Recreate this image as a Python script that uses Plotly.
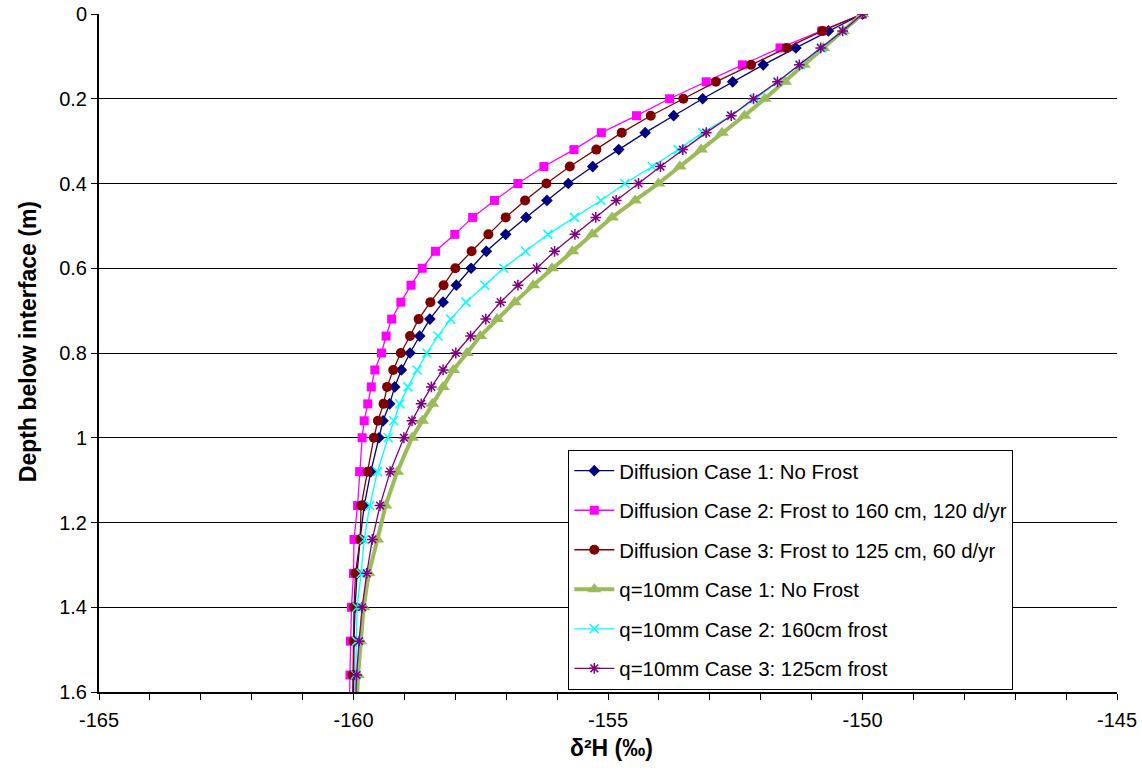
import plotly.graph_objects as go

# Depth below the interface (m)
depth = [0.00, 0.04, 0.08, 0.12, 0.16, 0.20, 0.24, 0.28, 0.32, 0.36, 0.40,
         0.44, 0.48, 0.52, 0.56, 0.60, 0.64, 0.68, 0.72, 0.76, 0.80, 0.84,
         0.88, 0.92, 0.96, 1.00, 1.08, 1.16, 1.24, 1.32, 1.40, 1.48, 1.56, 1.64]

# delta-2H profiles (permil)
diff_case1 = [-150.00, -150.67, -151.31, -151.95, -152.55, -153.14, -153.71, -154.27,
              -154.79, -155.30, -155.78, -156.20, -156.61, -157.01, -157.39, -157.69,
              -157.98, -158.24, -158.50, -158.70, -158.89, -159.06, -159.19, -159.29,
              -159.42, -159.50, -159.66, -159.79, -159.87, -159.93, -159.97, -159.99,
              -160.00, -160.00]
diff_case2 = [-150.00, -150.80, -151.62, -152.36, -153.07, -153.79, -154.44, -155.13,
              -155.67, -156.26, -156.77, -157.23, -157.66, -158.01, -158.39, -158.65,
              -158.87, -159.07, -159.25, -159.36, -159.45, -159.58, -159.65, -159.72,
              -159.79, -159.83, -159.88, -159.92, -159.99, -160.00, -160.04, -160.06,
              -160.07, -160.08]
diff_case3 = [-150.00, -150.79, -151.49, -152.19, -152.88, -153.52, -154.16, -154.73,
              -155.23, -155.75, -156.21, -156.63, -157.01, -157.35, -157.68, -158.00,
              -158.23, -158.49, -158.72, -158.89, -159.07, -159.22, -159.34, -159.41,
              -159.52, -159.60, -159.72, -159.85, -159.87, -159.96, -159.99, -160.00,
              -160.02, -160.02]
q10_case1 = [-150.00, -150.38, -150.77, -151.15, -151.52, -151.92, -152.32, -152.76,
             -153.17, -153.59, -154.01, -154.47, -154.92, -155.31, -155.70, -156.10,
             -156.47, -156.83, -157.18, -157.51, -157.77, -158.04, -158.24, -158.45,
             -158.65, -158.85, -159.14, -159.37, -159.53, -159.70, -159.80, -159.86,
             -159.91, -159.94]
q10_case2 = [-150.00, -150.38, -150.80, -151.22, -151.66, -152.10, -152.58, -153.14,
             -153.62, -154.13, -154.67, -155.14, -155.66, -156.18, -156.62, -157.05,
             -157.42, -157.79, -158.09, -158.34, -158.56, -158.75, -158.93, -159.09,
             -159.21, -159.32, -159.53, -159.68, -159.79, -159.85, -159.93, -159.94,
             -159.96, -159.97]
q10_case3 = [-150.00, -150.39, -150.82, -151.24, -151.67, -152.14, -152.58, -153.07,
             -153.53, -153.97, -154.40, -154.84, -155.24, -155.65, -156.05, -156.40,
             -156.77, -157.11, -157.40, -157.70, -157.99, -158.24, -158.47, -158.67,
             -158.85, -159.01, -159.28, -159.48, -159.63, -159.74, -159.83, -159.89,
             -159.94, -159.96]

x_ticks = [-165, -160, -155, -150, -145]
x_tick_text = ["-165", "-160", "-155", "-150", "-145"]
y_ticks = [0, 0.2, 0.4, 0.6, 0.8, 1.0, 1.2, 1.4, 1.6]
y_tick_text = ["0", "0.2", "0.4", "0.6", "0.8", "1", "1.2", "1.4", "1.6"]

x_title = "δ²H (‰)"
y_title = "Depth below interface (m)"

FONT = "Liberation Sans, Arial, sans-serif"

series = [
    ("Diffusion Case 1: No Frost", diff_case1, "#000080", "diamond", 9, 1.3),
    ("Diffusion Case 2: Frost to 160 cm, 120 d/yr", diff_case2, "#FF00FF", "square", 9, 1.3),
    ("Diffusion Case 3: Frost to 125 cm, 60 d/yr", diff_case3, "#800000", "circle", 10, 1.3),
    ("q=10mm Case 1: No Frost", q10_case1, "#9BBB59", "triangle-up", 12, 4),
    ("q=10mm Case 2: 160cm frost", q10_case2, "#00FFFF", "x-thin-open", 9, 1.3),
    ("q=10mm Case 3: 125cm frost", q10_case3, "#800080", "asterisk-open", 9, 1.3),
]

fig = go.Figure()
for i, (name, vals, color, symbol, msize, lw) in enumerate(series):
    fig.add_trace(go.Scatter(
        x=vals, y=depth, name=name, mode="lines+markers",
        legendgroup=f"g{i}",
        line=dict(color=color, width=lw),
        marker=dict(symbol=symbol, size=msize, color=color,
                    line=dict(color=color, width=1.5 if "open" in symbol else 0)),
        cliponaxis=True,
    ))

# Axis titles placed as annotations relative to the plot area
fig.add_annotation(text=f"<b>{y_title}</b>", textangle=-90,
                   xref="paper", yref="paper", x=0, y=0.516,
                   xanchor="center", yanchor="middle", xshift=-71,
                   showarrow=False, font=dict(family=FONT, size=23, color="black"))
fig.add_annotation(text=f"<b>{x_title}</b>",
                   xref="paper", yref="paper", x=0.503, y=0,
                   xanchor="center", yanchor="middle", yshift=-56,
                   showarrow=False, font=dict(family=FONT, size=23, color="black"))

fig.update_layout(
    width=1142, height=772,
    margin=dict(l=99, r=25, t=14, b=80),
    paper_bgcolor="white", plot_bgcolor="white",
    font=dict(family=FONT, size=20, color="black"),
    showlegend=True,
    legend=dict(
        x=0.461, y=0.357, xanchor="left", yanchor="top",
        bgcolor="white", bordercolor="black", borderwidth=1,
        font=dict(family=FONT, size=20.4, color="black"),
        tracegroupgap=10, itemwidth=40,
    ),
    xaxis=dict(
        range=[-165, -145], tickvals=x_ticks, ticktext=x_tick_text,
        ticks="outside", ticklen=6, tickcolor="black", tickwidth=1,
        minor=dict(dtick=1, ticks="outside", ticklen=6, tickcolor="black", tickwidth=1),
        showgrid=False, zeroline=False, automargin=False,
        showline=True, linecolor="black", linewidth=2,
        ticklabelstandoff=3,
    ),
    yaxis=dict(
        range=[1.6, 0], tickvals=y_ticks, ticktext=y_tick_text,
        ticks="outside", ticklen=6, tickcolor="black", automargin=False,
        showgrid=True, gridcolor="black", gridwidth=1, zeroline=False,
        showline=True, linecolor="black", linewidth=2,
        ticklabelstandoff=0,
    ),
)

fig.write_html("out.html")
